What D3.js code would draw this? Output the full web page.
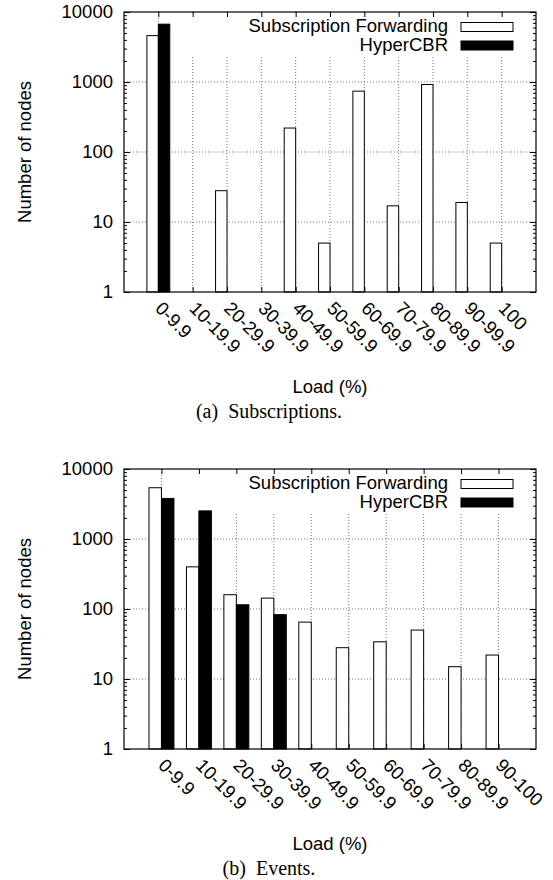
<!DOCTYPE html>
<html lang="en">
<head>
    <meta charset="UTF-8">
    <title>Load distribution: Subscription Forwarding vs HyperCBR</title>
    <style>
        body {
            margin: 0;
            background: #fff;
        }
        svg text {
            font-family: "Liberation Sans", Arial, Helvetica, sans-serif;
        }
        .grid {
            stroke: #777;
            stroke-width: 1;
            stroke-dasharray: 1,2;
        }
        .frame {
            fill: none;
            stroke: #000;
            stroke-width: 1.2;
        }
        .caption {
            font-family: "Liberation Serif", "Times New Roman", serif !important;
            white-space: pre;
        }
    </style>
</head>
<body>
<script src="https://d3js.org/d3.v7.min.js"></script>
<script>
// y axis (log scale)
const yTicks = [1, 10, 100, 1000, 10000];

// (a) Subscriptions
const subsCategories = ["0-9.9", "10-19.9", "20-29.9", "30-39.9", "40-49.9", "50-59.9",
                        "60-69.9", "70-79.9", "80-89.9", "90-99.9", "100"];
const subsForwarding = [4600, null, 28, null, 220, 5, 740, 17, 920, 19, 5];
const subsHyperCBR   = [6700, null, null, null, null, null, null, null, null, null, null];

// (b) Events
const eventCategories = ["0-9.9", "10-19.9", "20-29.9", "30-39.9", "40-49.9", "50-59.9",
                         "60-69.9", "70-79.9", "80-89.9", "90-100"];
const eventForwarding = [5400, 400, 160, 143, 65, 28, 34, 50, 15, 22];
const eventHyperCBR   = [3800, 2520, 115, 83, null, null, null, null, null, null];

const seriesNames = ["Subscription Forwarding", "HyperCBR"];
const seriesFill = ["#fff", "#000"];

const W = 553, H = 880;
const FS = 18.5;

const svg = d3.select("body").append("svg")
    .attr("width", W)
    .attr("height", H);

function drawPanel(cfg) {
    const left = 124, right = 536;
    const top = cfg.top, bottom = cfg.top + 280;
    const n = cfg.categories.length;
    const bw = 1 / 3;

    const x = d3.scaleLinear().domain([-1, n]).range([left, right]);
    const y = d3.scaleLog().domain([1, 10000]).range([bottom, top]);

    const minor = [];
    yTicks.slice(0, -1).forEach(d => {
        for (let k = 2; k <= 9; k++) minor.push(d * k);
    });

    const g = svg.append("g");

    // grid lines
    g.append("g").selectAll("line")
        .data(yTicks.filter(v => v > 1 && v < 10000))
        .enter().append("line")
        .attr("class", "grid")
        .attr("x1", left).attr("x2", right)
        .attr("y1", d => y(d)).attr("y2", d => y(d));

    g.append("g").selectAll("line")
        .data(d3.range(n))
        .enter().append("line")
        .attr("class", "grid")
        .attr("x1", d => x(d)).attr("x2", d => x(d))
        .attr("y1", top).attr("y2", bottom);

    // key is opaque, hides the grid behind it
    g.append("rect")
        .attr("x", 176).attr("y", top + 1)
        .attr("width", right - 177).attr("height", 44)
        .attr("fill", "#fff");

    // bars
    cfg.series.forEach((vals, s) => {
        g.append("g").selectAll("rect")
            .data(vals.map((v, i) => ({v, i})).filter(d => d.v != null))
            .enter().append("rect")
            .attr("x", d => x(d.i - bw + s * bw))
            .attr("width", x(bw) - x(0))
            .attr("y", d => y(d.v))
            .attr("height", d => bottom - y(d.v))
            .attr("fill", seriesFill[s])
            .attr("stroke", "#000")
            .attr("stroke-width", 1);
    });

    // axes, ticks pointing inward
    const yAxis = g.append("g")
        .attr("transform", `translate(${left},0)`)
        .call(d3.axisLeft(y).tickValues(yTicks).tickFormat(d3.format("d"))
            .tickSize(-6).tickPadding(11));
    g.append("g")
        .attr("transform", `translate(${left},0)`)
        .call(d3.axisLeft(y).tickValues(minor).tickFormat("").tickSize(-3));
    g.append("g")
        .attr("transform", `translate(${right},0)`)
        .call(d3.axisRight(y).tickValues(yTicks).tickFormat("").tickSize(-6));
    g.append("g")
        .attr("transform", `translate(${right},0)`)
        .call(d3.axisRight(y).tickValues(minor).tickFormat("").tickSize(-3));

    const xAxis = g.append("g")
        .attr("transform", `translate(0,${bottom})`)
        .call(d3.axisBottom(x).tickValues(d3.range(n))
            .tickFormat(i => cfg.categories[i]).tickSize(-5));
    g.append("g")
        .attr("transform", `translate(0,${top})`)
        .call(d3.axisTop(x).tickValues(d3.range(n)).tickFormat("").tickSize(-5));

    g.selectAll(".domain").remove();
    g.selectAll(".tick line").attr("stroke", "#000");

    yAxis.selectAll("text")
        .attr("font-size", FS)
        .attr("font-family", null)
        .attr("fill", "#000");

    xAxis.selectAll("text")
        .attr("font-size", FS)
        .attr("font-family", null)
        .attr("fill", "#000")
        .attr("x", 0).attr("y", 0)
        .attr("dy", "0.35em")
        .attr("text-anchor", "start")
        .attr("transform", "translate(0,13) rotate(45)");

    // frame
    g.append("rect")
        .attr("class", "frame")
        .attr("x", left).attr("y", top)
        .attr("width", right - left).attr("height", bottom - top);

    // key
    const key = g.append("g");
    seriesNames.forEach((name, s) => {
        const cy = top + 15 + s * 18.5;
        key.append("text")
            .attr("x", 448).attr("y", cy + 5)
            .attr("text-anchor", "end")
            .attr("font-size", FS)
            .text(name);
        key.append("rect")
            .attr("x", 461).attr("y", cy - 4.5)
            .attr("width", 52).attr("height", 9)
            .attr("fill", seriesFill[s])
            .attr("stroke", "#000");
    });

    // axis titles
    g.append("text")
        .attr("transform", `translate(31,${(top + bottom) / 2}) rotate(-90)`)
        .attr("text-anchor", "middle")
        .attr("font-size", FS)
        .text("Number of nodes");

    g.append("text")
        .attr("x", (left + right) / 2)
        .attr("y", bottom + 101)
        .attr("text-anchor", "middle")
        .attr("font-size", FS)
        .text("Load (%)");

    g.append("text")
        .attr("class", "caption")
        .attr("x", 269)
        .attr("y", bottom + 126)
        .attr("text-anchor", "middle")
        .attr("font-size", 20)
        .text(cfg.caption);
}

drawPanel({
    top: 12,
    categories: subsCategories,
    series: [subsForwarding, subsHyperCBR],
    caption: "(a)  Subscriptions."
});

drawPanel({
    top: 469,
    categories: eventCategories,
    series: [eventForwarding, eventHyperCBR],
    caption: "(b)  Events."
});
</script>
</body>
</html>
